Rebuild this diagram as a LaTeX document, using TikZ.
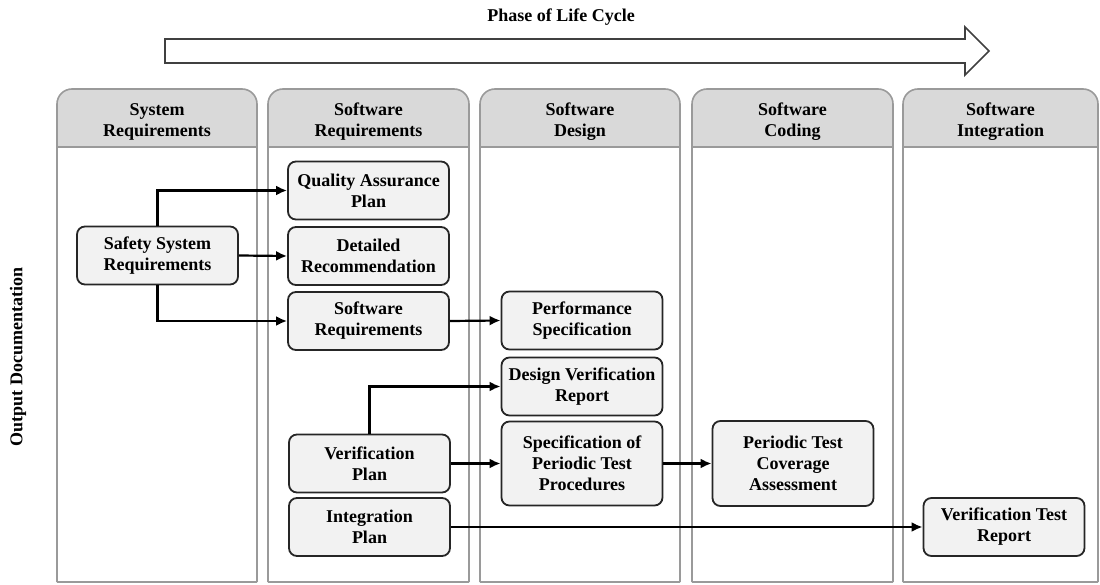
\documentclass[tikz,border=0pt]{standalone}
\usepackage{fontspec}
\setmainfont{Liberation Serif}
\usepackage{tikz}
\usetikzlibrary{arrows,arrows.meta,calc}
\definecolor{lanegray}{HTML}{9A9A9A}
\definecolor{hdrgray}{HTML}{D9D9D9}
\definecolor{boxgray}{HTML}{F2F2F2}
\newcommand{\boxfont}{\fontsize{18}{21}\selectfont}

\begin{document}
\begin{tikzpicture}[x=1pt,y=-1pt,
    lane/.style={draw=lanegray, line width=1.6pt},
    doc/.style={draw=black!85, fill=boxgray, line width=1.8pt, rounded corners=8pt,
        minimum width=161pt, minimum height=58pt, align=center, inner sep=2pt,
        font=\bfseries\boxfont},
    flow/.style={-{Latex[length=11pt,width=10pt]}, line width=2.2pt, black}]
    \useasboundingbox (0,0) rectangle (1100,585);

    % Phase arrow on top
    \node[font=\bfseries\boxfont] (phase) at (561,17) {Phase of Life Cycle};
    \draw[line width=1.7pt, draw=black!75] (165,39) -- (965,39) -- (965,27) -- (989,51)
        -- (965,75) -- (965,63) -- (165,63) -- cycle;

    % Side label
    \node[rotate=90, font=\bfseries\boxfont] (outdoc) at (18,357) {Output Documentation};

    % Lanes with their headers
    \foreach \l/\r/\name [count=\i] in {57/257/{System\\Requirements},
            268/469/{Software\\Requirements}, 480/680/{Software\\Design},
            692/893/{Software\\Coding}, 903/1098/{Software\\Integration}} {
        \fill[hdrgray, rounded corners=15pt] (\l,147) -- (\l,89) -- (\r,89) -- (\r,147);
        \draw[lane, rounded corners=15pt] (\l,582) -- (\l,89) -- (\r,89) -- (\r,582);
        \draw[lane] (\l,582) -- (\r,582);
        \draw[lane] (\l,147) -- (\r,147);
        \node[align=center, font=\bfseries\boxfont] (head\i) at ({(\l+\r)/2},122) {\name};
    }

    % System requirements
    \node[doc] (ssr) at (157.5,255.5) {Safety System\\Requirements};

    % Software requirements
    \node[doc] (qap) at (368.5,190.5) {Quality Assurance\\Plan};
    \node[doc] (dr) at (368.5,256) {Detailed\\Recommendation};
    \node[doc] (swr) at (368.5,321) {Software\\Requirements};
    \node[doc] (vp) at (369.5,463.5) {Verification\\Plan};
    \node[doc] (ip) at (369.5,527) {Integration\\Plan};

    % Software design
    \node[doc] (ps) at (582,320.5) {Performance\\Specification};
    \node[doc] (dvr) at (582,386.5) {Design Verification\\Report};
    \node[doc, minimum height=84pt] (sptp) at (582,463.5) {Specification of\\Periodic Test\\Procedures};

    % Software coding
    \node[doc, minimum height=85pt] (ptca) at (793,463.5) {Periodic Test\\Coverage\\Assessment};

    % Software integration
    \node[doc] (vtr) at (1004,527) {Verification Test\\Report};

    % Connectors
    \draw[flow] (ssr.north) |- (qap.west);
    \draw[flow] (ssr.east) -- (dr.west);
    \draw[flow] (ssr.south) |- (swr.west);
    \draw[flow] (swr.east) -- (ps.west);
    \draw[flow] (vp.north) |- (dvr.west);
    \draw[flow] (vp.east) -- (sptp.west);
    \draw[flow] (sptp.east) -- (ptca.west);
    \draw[flow] (ip.east) -- (vtr.west);
\end{tikzpicture}
\end{document}
